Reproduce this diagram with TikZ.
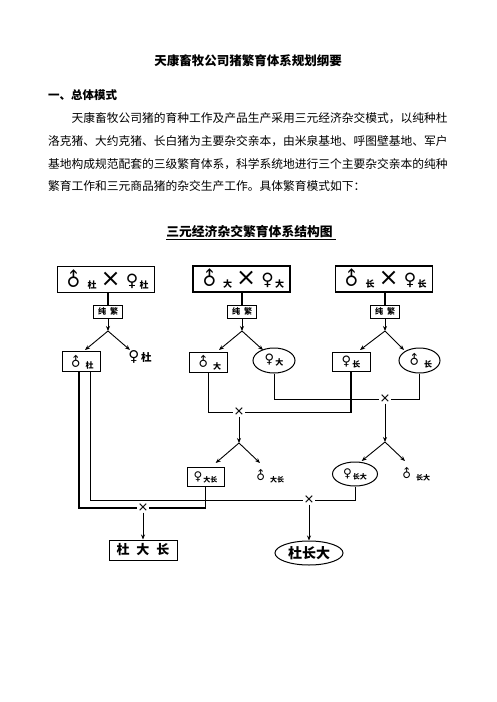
\documentclass[tikz,border=0pt]{standalone}
\usepackage{fontspec}
\setmainfont{Noto Sans CJK SC}
\newfontfamily\sym{DejaVu Sans}
\usepackage{graphicx}
\usetikzlibrary{arrows.meta,shapes.geometric}
\newcommand\msym[1]{{\sym\fontsize{#1}{#1}\selectfont\rotatebox[origin=c]{45}{♂}}\hspace{2.5pt}}
\newcommand\fsym[1]{{\sym\fontsize{#1}{#1}\selectfont ♀}}
\newcommand\sbt[2]{\raisebox{-2pt}{\fontsize{#1}{#1}\selectfont\bfseries #2}}
\newcommand\crossx[1]{{\sym\fontsize{#1}{#1}\selectfont ×}}
\begin{document}
\begin{tikzpicture}[x=1pt,y=-1pt,
  topbox/.style={draw,line width=1.3pt,minimum width=97pt,minimum height=26pt,inner sep=0pt},
  pbox/.style={draw,line width=0.9pt,minimum width=29.5pt,minimum height=13pt,inner sep=0pt,font=\fontsize{8}{8}\selectfont\bfseries},
  sbox/.style={draw,line width=1pt,minimum width=38pt,minimum height=19.5pt,inner sep=0pt},
  oval/.style={draw,ellipse,line width=1pt,minimum width=42pt,minimum height=25pt,inner sep=0pt},
  xmark/.style={inner sep=0.5pt,font=\sym\fontsize{13}{13}\selectfont},
  conn/.style={line width=0.9pt},
  heavy/.style={line width=1.8pt},
  arr/.style={line width=0.9pt,-{Stealth[length=5pt,width=4pt]}}]
\useasboundingbox (0,0) rectangle (496,702);
% texts
\node[font=\fontsize{12.5}{12.5}\selectfont\bfseries] (title) at (248,61) {天康畜牧公司猪繁育体系规划纲要};
\node[anchor=west,inner sep=0pt,font=\fontsize{11.5}{11.5}\selectfont\bfseries] (h1) at (48,95) {一、总体模式};
\node[anchor=north west,align=left,inner sep=0pt,font=\fontsize{11.75}{22.7}\selectfont] (para) at (48,112.5)
 {\hspace*{23.5pt}天康畜牧公司猪的育种工作及产品生产采用三元经济杂交模式，以纯种杜\\
  洛克猪、大约克猪、长白猪为主要杂交亲本，由米泉基地、呼图壁基地、军户\\
  基地构成规范配套的三级繁育体系，科学系统地进行三个主要杂交亲本的纯种\\
  繁育工作和三元商品猪的杂交生产工作。具体繁育模式如下：};
\node[font=\fontsize{12.8}{12.8}\selectfont\bfseries] (ct) at (251,233) {\underline{三元经济杂交繁育体系结构图\hspace{3pt}}};
% top boxes
\node[topbox] (tdu) at (106,279.5) {\msym{19}\sbt{9}{杜}\hspace{4pt}\crossx{24}\hspace{5pt}\fsym{17}\hspace{1.5pt}\sbt{9}{杜}};
\node[topbox] (tda) at (241.5,279) {\msym{19}\sbt{9}{大}\hspace{4pt}\crossx{24}\hspace{5pt}\fsym{17}\hspace{1.5pt}\sbt{9}{大}};
\node[topbox] (tch) at (384,279) {\msym{19}\sbt{9}{长}\hspace{4pt}\crossx{24}\hspace{5pt}\fsym{17}\hspace{1.5pt}\sbt{9}{长}};
\node[pbox] (pdu) at (108,311.7) {纯\hspace{4pt}繁};
\node[pbox] (pda) at (242,311.5) {纯\hspace{4pt}繁};
\node[pbox] (pch) at (385,311.5) {纯\hspace{4pt}繁};
% second row
\node[sbox] (mdu) at (81,361.7) {\msym{13}\sbt{8}{杜}};
\node[inner sep=0pt] (fdu) at (140,357) {\fsym{15}\,{\fontsize{10.5}{10.5}\selectfont\bfseries 杜}};
\node[sbox] (mda) at (208.5,362.5) {\msym{13}\sbt{8}{大}};
\node[oval] (fda) at (274,360.5) {\fsym{13}\hspace{1pt}\sbt{8}{大}};
\node[sbox] (fch) at (351,362) {\fsym{13}\hspace{1pt}\sbt{8}{长}};
\node[oval,minimum width=41pt] (mch) at (419.5,360.5) {\msym{13}\sbt{8}{长}};
% third row
\node[sbox,minimum width=37pt] (fdc) at (205.5,477) {\fsym{12}\hspace{1pt}\sbt{7}{大长}};
\node[inner sep=0pt] (mdc) at (269,476) {\msym{12}\sbt{7}{大长}};
\node[oval,minimum width=45pt,minimum height=24pt] (fcd) at (355,474) {\fsym{12}\hspace{1pt}\sbt{7}{长大}};
\node[inner sep=0pt] (mcd) at (415,474) {\msym{12}\sbt{7}{长大}};
% products
\node[sbox,minimum width=68pt,minimum height=20pt,font=\fontsize{13}{13}\selectfont\bfseries] (pdcd) at (143,550) {杜\hspace{7pt}大\hspace{7pt}长};
\node[oval,minimum width=68pt,minimum height=24pt,font=\fontsize{14}{14}\selectfont\bfseries] (pcdd) at (309,553) {杜长大};
% cross marks
\node[xmark] (x1) at (239,412) {×};
\node[xmark] (x2) at (385,399) {×};
\node[xmark] (x3) at (143,508) {×};
\node[xmark] (x4) at (309,500) {×};
% split points and arrow ends
\coordinate (s1) at (108,331);
\coordinate (s2) at (242,331);
\coordinate (s3) at (385,331);
\coordinate (a1l) at (85,350);
\coordinate (a1r) at (130,350);
\coordinate (a2l) at (219,350);
\coordinate (a2r) at (263,350);
\coordinate (a3l) at (360,350);
\coordinate (a3r) at (404,350);
\coordinate (s4) at (239,443);
\coordinate (s5) at (385,442);
\coordinate (b1l) at (215.7,463);
\coordinate (b1r) at (260,463);
\coordinate (b2l) at (361.7,461);
\coordinate (b2r) at (405,461);
% connectors
\draw[heavy] (tdu.south -| pdu.north) -- (pdu.north);
\draw[heavy] (tda.south -| pda.north) -- (pda.north);
\draw[heavy] (tch.south -| pch.north) -- (pch.north);
\draw[arr] (pdu.south) -- (s1);
\draw[arr] (pda.south) -- (s2);
\draw[arr] (pch.south) -- (s3);
\draw[arr] (s1) -- (a1l);
\draw[arr] (s1) -- (a1r);
\draw[arr] (s2) -- (a2l);
\draw[arr] (s2) -- (a2r);
\draw[arr] (s3) -- (a3l);
\draw[arr] (s3) -- (a3r);
\draw[conn] (mda.south) |- (x1.west);
\draw[conn] (x1.east) -| (fch.south);
\draw[heavy] (fch.south) -- (fch.south |- x1.east);
\draw[conn] (fda.south) |- (x2.west);
\draw[conn] (x2.east) -| (mch.south);
\draw[arr] (x1.south) -- (s4);
\draw[arr] (s4) -- (b1l);
\draw[arr] (s4) -- (b1r);
\draw[arr] (x2.south) -- (s5);
\draw[arr] (s5) -- (b2l);
\draw[arr] (s5) -- (b2r);
\draw[heavy] ([xshift=-2pt]mdu.south) |- (x3.west);
\draw[heavy] (x3.east) -| (fdc.south);
\draw[conn] ([xshift=9.7pt]mdu.south) |- (x4.west);
\draw[conn] (x4.east) -| (fcd.south);
\draw[arr] (x3.south) -- (pdcd.north);
\draw[arr] (x4.south) -- (pcdd.north);
\end{tikzpicture}
\end{document}
